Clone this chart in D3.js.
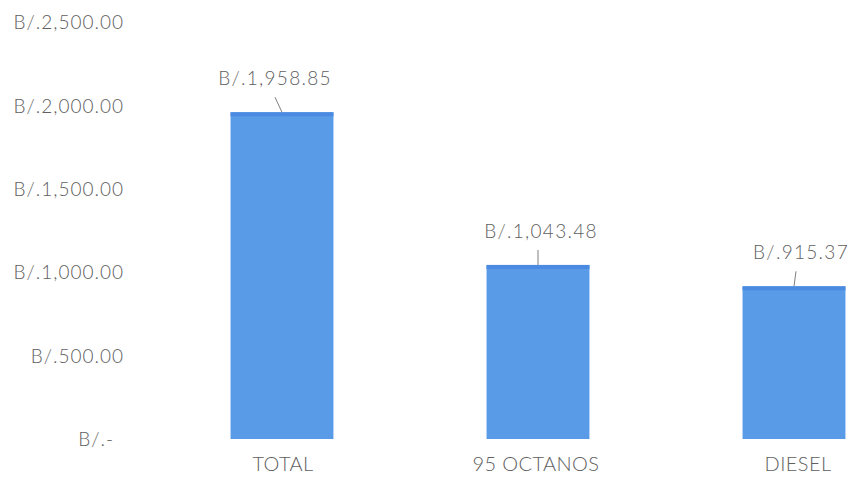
<!DOCTYPE html>
<html><head><meta charset="utf-8">
<script src="https://cdn.jsdelivr.net/npm/d3@7/dist/d3.min.js"></script>
<style>
html,body{margin:0;padding:0;background:#fff;}
text{font-family:Lato,"Open Sans",sans-serif;fill:#606060;font-weight:300;}
</style></head>
<body>
<svg id="c" width="849" height="480"></svg>
<script>
const categories = ["TOTAL", "95 OCTANOS", "DIESEL"];
const values = [1958.85, 1043.48, 915.37];
const valueLabels = ["B/.1,958.85", "B/.1,043.48", "B/.915.37"];
const tickValues = [0, 500, 1000, 1500, 2000, 2500];
const tickLabels = ["B/.-", "B/.500.00", "B/.1,000.00", "B/.1,500.00", "B/.2,000.00", "B/.2,500.00"];

const svg = d3.select("#c");
const x = d3.scaleBand().domain(categories).range([154, 922]).paddingInner(0.598).paddingOuter(0.299);
const y = d3.scaleLinear().domain([0, 2500]).range([439, 22]);

// y axis
const yAxis = d3.axisLeft(y).tickValues(tickValues)
  .tickFormat((d, i) => tickLabels[i]).tickSize(0).tickPadding(0);
const gy = svg.append("g").attr("transform", "translate(124,0)").call(yAxis);
gy.select(".domain").remove();
gy.selectAll("text").style("font-size", "19px").style("letter-spacing", "1px")
  .attr("fill", "#606060").style("font-family", "Lato, sans-serif").style("font-weight", "300")
  .attr("dx", d => d === 0 ? -10 : 0).attr("dy", "0.35em");

// bars
const g = svg.append("g");
g.selectAll("rect.bar").data(values).join("rect").attr("class", "bar")
  .attr("x", (d, i) => x(categories[i]))
  .attr("width", x.bandwidth())
  .attr("y", d => y(d))
  .attr("height", d => y(0) - y(d))
  .attr("fill", "#5a9be8");
g.selectAll("rect.top").data(values).join("rect").attr("class", "top")
  .attr("x", (d, i) => x(categories[i]))
  .attr("width", x.bandwidth())
  .attr("y", d => y(d))
  .attr("height", 4)
  .attr("fill", "#4a8ae0");

// leader lines
const leadTop = [-7, 0, 2];
const leadBottom = [0, 0, 0];
g.selectAll("line.lead").data(values).join("line").attr("class", "lead")
  .attr("x1", (d, i) => x(categories[i]) + x.bandwidth() / 2 + leadTop[i])
  .attr("x2", (d, i) => x(categories[i]) + x.bandwidth() / 2 + leadBottom[i])
  .attr("y1", d => y(d) - 15)
  .attr("y2", d => y(d))
  .attr("stroke", "#7f7f7f").attr("stroke-width", 1);

// value labels
const labDx = [-7, 3, 7];
g.selectAll("text.val").data(values).join("text").attr("class", "val")
  .attr("x", (d, i) => x(categories[i]) + x.bandwidth() / 2 + labDx[i])
  .attr("y", d => y(d) - 27)
  .attr("text-anchor", "middle")
  .style("font-size", "19px").style("letter-spacing", "1.3px")
  .text((d, i) => valueLabels[i]);

// category labels
const catDx = [1, -2, 4];
g.selectAll("text.cat").data(categories).join("text").attr("class", "cat")
  .attr("x", (d, i) => x(d) + x.bandwidth() / 2 + catDx[i])
  .attr("y", 471)
  .attr("text-anchor", "middle")
  .style("font-size", "20px").style("letter-spacing", "0.4px")
  .text(d => d);
</script>
</body></html>
